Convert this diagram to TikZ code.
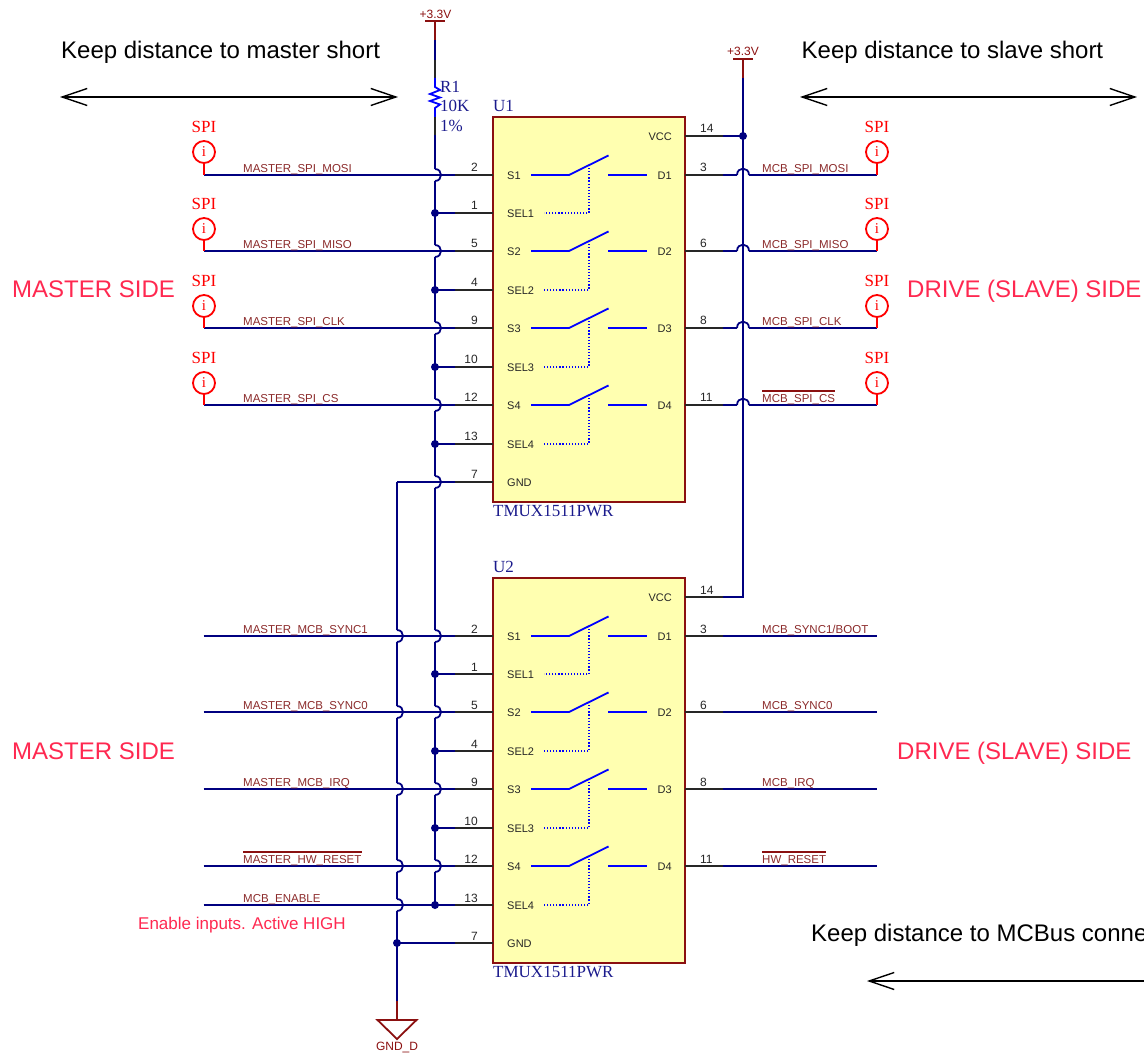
\documentclass[tikz,border=0pt]{standalone}
\usepackage{fontspec}
\setmainfont{Liberation Sans}
\newfontfamily\serifface{Liberation Serif}
\usetikzlibrary{arrows.meta,calc}
\definecolor{wirec}{HTML}{000080}
\definecolor{netc}{HTML}{8B2A2A}
\definecolor{darkr}{HTML}{8B1010}
\definecolor{compc}{HTML}{1A1A8C}
\definecolor{notec}{HTML}{FF2850}
\definecolor{swc}{HTML}{0000FF}
\definecolor{chipf}{HTML}{FFFFB0}
\newcommand{\fs}[1]{\fontsize{#1pt}{#1pt}\selectfont}
\tikzset{
  wire/.style={draw=wirec,line width=1.8pt},
  pinline/.style={draw=black!85,line width=1.8pt},
  powerline/.style={draw=darkr,line width=1.8pt},
  chipbox/.style={draw=darkr,fill=chipf,line width=2pt,inner sep=0pt,outer sep=0pt,minimum width=192pt,anchor=north west},
  pintext/.style={inner sep=0pt,text=black!85,font=\fs{11}},
  pinnum/.style={inner sep=0pt,text=black!85,font=\fs{12}},
  netlabel/.style={inner sep=0pt,text=netc,font=\fs{11.5},anchor=base west},
  netbar/.style={draw=darkr,line width=1.6pt},
  compref/.style={inner sep=0pt,text=compc,font=\serifface\fs{17},anchor=base west},
  bigtext/.style={inner sep=0pt,text=black,font=\fs{24},anchor=base west},
  notetext/.style={inner sep=0pt,text=notec,font=\fs{24},anchor=base west},
  powertext/.style={inner sep=0pt,text=darkr,font=\fs{12}},
  junction/.style={circle,fill=wirec,inner sep=0pt,minimum size=8pt},
  sw/.style={draw=swc,line width=1.8pt},
  swdot/.style={draw=swc,line width=1.2pt,dash pattern=on 1.2pt off 1.9pt},
  spicircle/.style={circle,draw=red,line width=1.8pt,inner sep=0pt,minimum size=22pt,text=red,font=\serifface\fs{15}},
  spitext/.style={inner sep=0pt,text=red,font=\serifface\fs{17}},
  spistem/.style={draw=red,line width=1.8pt},
  farrow/.style={draw=black,line width=1.6pt},
  barb/.tip={Straight Barb[length=25pt,width=17pt,line width=1.4pt]}
}
% vertical wire hop over a horizontal wire
\newcommand{\vhop}[1]{\draw[wire,shift={(#1)}] (0,-6) .. controls (8,-6) and (8,6) .. (0,6);}
% horizontal wire hop over a vertical wire
\newcommand{\hhop}[1]{\draw[wire,shift={(#1)}] (-6,0) .. controls (-6,-8.5) and (6,-8.5) .. (6,0);}
% chip: name, top y
\newcommand{\chip}[2]{%
\begin{scope}[shift={(0,#2)}]
  \node[chipbox,minimum height=384.6pt] (#1-box) at (493,0) {};
  \node[compref] (#1-ref) at (493,-5.5) {#1};
  \node[compref] (#1-type) at (493,399.5) {TMUX1511PWR};
  \foreach \pn/\num/\yy in {S1/2/58,SEL1/1/96,S2/5/134,SEL2/4/173,S3/9/211,SEL3/10/250,S4/12/288,SEL4/13/327,GND/7/365}{
    \coordinate (#1-\pn) at (493,\yy);
    \coordinate (#1-\pn w) at (454.5,\yy);
    \draw[pinline] (#1-\pn) -- (#1-\pn w);
    \node[pintext,anchor=base west] (#1-\pn t) at (507,\yy+4.5) {\pn};
    \node[pinnum,anchor=base east] (#1-\pn n) at (478,\yy-3) {\num};
  }
  \foreach \pn/\num/\yy in {VCC/14/19,D1/3/58,D2/6/134,D3/8/211,D4/11/288}{
    \coordinate (#1-\pn) at (685,\yy);
    \coordinate (#1-\pn w) at (723,\yy);
    \draw[pinline] (#1-\pn) -- (#1-\pn w);
    \node[pintext,anchor=base east] (#1-\pn t) at (672,\yy+4.5) {\pn};
    \node[pinnum,anchor=base west] (#1-\pn n) at (700,\yy-3) {\num};
  }
  \foreach \yy/\sel in {58/96,134/173,211/250,288/327}{
    \draw[sw] (531,\yy) -- (569,\yy) -- (608.5,\yy-19.5);
    \draw[sw] (608,\yy) -- (647,\yy);
    \draw[swdot] (589,\yy-10) -- (589,\sel) -- (544,\sel);
  }
\end{scope}}
\newcommand{\spileft}[4]{% name, pin, label, circle y
  \node[spicircle] (#1) at (204,#4) {i};
  \node[spitext] (#1t) at (204,#4-25) {SPI};
  \coordinate (#1e) at (#1 |- #2);
  \draw[wire] (#1e) -- (#2w);
  \draw[spistem] (#1) -- (#1e);
  \node[netlabel] (#1l) at ($(#2)+(-250,-2.5)$) {#3};
}
\newcommand{\spiright}[4]{%
  \node[spicircle] (#1) at (877,#4) {i};
  \node[spitext] (#1t) at (877,#4-25) {SPI};
  \coordinate (#1e) at (#1 |- #2);
  \coordinate (#1h) at (railB |- #2);
  \draw[wire] (#2w) -- ($(#1h)+(-6,0)$);
  \hhop{#1h}
  \draw[wire] ($(#1h)+(6,0)$) -- (#1e);
  \draw[spistem] (#1) -- (#1e);
  \node[netlabel] (#1l) at ($(#2)+(77,-2.5)$) {#3};
}
\begin{document}
\begin{tikzpicture}[x=1pt,y=-1pt]
\useasboundingbox (0,0) rectangle (1144,1056);
\clip (0,0) rectangle (1144,1056);
\chip{U1}{117}
\chip{U2}{578}

% rails
\coordinate (railA) at (435,135);
\coordinate (railB) at (743,78);
\coordinate (railC) at (397,482);

% +3.3V over R1
\node[powertext] (vccA) at (435.5,14) {+3.3V};
\coordinate (vccAbar) at (435,21);
\coordinate (a1) at (435,40);
\coordinate (a2) at (435,60);
\coordinate (a3) at (435,78);
\coordinate (a4) at (435,117);
\draw[powerline] ($(vccAbar)+(-10,0)$) -- ($(vccAbar)+(10,0)$);
\draw[powerline] (vccAbar) -- (a1);
\draw[wire] (a1) -- (a2);
\draw[pinline] (a2) -- (a3);
\draw[sw,line join=miter] (a3) -- (435,87) -- (440,90) -- (430,94) -- (440,97.5) -- (430,101) -- (440,104.5) -- (435,108) -- (a4);
\draw[pinline] (a4) -- (railA);
\node[compref] (R1a) at (440,92.5) {R1};
\node[compref] (R1b) at (440,112) {10K};
\node[compref] (R1c) at (440,131.5) {1\%};

% rail A with hops
\foreach \prev/\next in {U1-S1/U1-S2,U1-S2/U1-S3,U1-S3/U1-S4,U1-S4/U1-GND,U1-GND/U2-S1,U2-S1/U2-S2,U2-S2/U2-S3,U2-S3/U2-S4}{
  \draw[wire] ($(railA |- \prev)+(0,6)$) -- ($(railA |- \next)+(0,-6)$);
}
\draw[wire] (railA) -- ($(railA |- U1-S1)+(0,-6)$);
\draw[wire] ($(railA |- U2-S4)+(0,6)$) -- (railA |- U2-SEL4);
\foreach \p in {U1-S1,U1-S2,U1-S3,U1-S4,U1-GND,U2-S1,U2-S2,U2-S3,U2-S4}{ \vhop{railA |- \p} }
\foreach \p in {U1-SEL1,U1-SEL2,U1-SEL3,U1-SEL4,U2-SEL1,U2-SEL2,U2-SEL3,U2-SEL4}{
  \node[junction] at (railA |- \p) {};
  \draw[wire] (railA |- \p) -- (\p w);
}

% SPI nets
\spileft{mA}{U1-S1}{MASTER\_SPI\_MOSI}{152}
\spileft{mB}{U1-S2}{MASTER\_SPI\_MISO}{229}
\spileft{mC}{U1-S3}{MASTER\_SPI\_CLK}{306}
\spileft{mD}{U1-S4}{MASTER\_SPI\_CS}{383}
\spiright{sA}{U1-D1}{MCB\_SPI\_MOSI}{152}
\spiright{sB}{U1-D2}{MCB\_SPI\_MISO}{229}
\spiright{sC}{U1-D3}{MCB\_SPI\_CLK}{306}
\spiright{sD}{U1-D4}{MCB\_SPI\_CS}{383}
\draw[netbar] ([yshift=3.5pt]sDl.north west) -- ([yshift=3.5pt]sDl.north east);

% +3.3V rail B
\node[powertext] (vccB) at (743,51) {+3.3V};
\coordinate (vccBbar) at (743,59);
\draw[powerline] ($(vccBbar)+(-10,0)$) -- ($(vccBbar)+(10,0)$);
\draw[powerline] (vccBbar) -- (railB);
\draw[wire] (railB) -- (railB |- U2-VCC) -- (U2-VCCw);
\draw[wire] (railB |- U1-VCC) -- (U1-VCCw);
\node[junction] at (railB |- U1-VCC) {};

% GND rail C
\draw[wire] (railC) -- (U1-GNDw);
\foreach \prev/\next in {U2-S1/U2-S2,U2-S2/U2-S3,U2-S3/U2-S4,U2-S4/U2-SEL4}{
  \draw[wire] ($(railC |- \prev)+(0,6)$) -- ($(railC |- \next)+(0,-6)$);
}
\draw[wire] (railC) -- ($(railC |- U2-S1)+(0,-6)$);
\foreach \p in {U2-S1,U2-S2,U2-S3,U2-S4,U2-SEL4}{ \vhop{railC |- \p} }
\coordinate (gndj) at (railC |- U2-GND);
\coordinate (gnd1) at (397,1001);
\coordinate (gnd2) at (397,1020);
\draw[wire] ($(railC |- U2-SEL4)+(0,6)$) -- (gnd1);
\draw[wire] (gndj) -- (U2-GNDw);
\node[junction] at (gndj) {};
\draw[powerline] (gnd1) -- (gnd2);
\draw[powerline,line join=miter] ($(gnd2)+(-19.5,0)$) -- ($(gnd2)+(19.5,0)$) -- (397,1039) -- cycle;
\node[powertext] (gndt) at (397,1047.5) {GND\_D};

% U2 left nets
\foreach \n/\pin/\lab in {nA/U2-S1/MASTER\_MCB\_SYNC1,nB/U2-S2/MASTER\_MCB\_SYNC0,nC/U2-S3/MASTER\_MCB\_IRQ,nD/U2-S4/MASTER\_HW\_RESET,nE/U2-SEL4/MCB\_ENABLE}{
  \coordinate (\n) at (203.5,0);
  \draw[wire] (\n |- \pin) -- (\pin w);
  \node[netlabel] (\n l) at ($(\pin)+(-250,-2.5)$) {\lab};
}
\draw[netbar] ([yshift=3.5pt]nDl.north west) -- ([yshift=3.5pt]nDl.north east);

% U2 right nets
\foreach \n/\pin/\lab in {rA/U2-D1/MCB\_SYNC1\slash BOOT,rB/U2-D2/MCB\_SYNC0,rC/U2-D3/MCB\_IRQ,rD/U2-D4/HW\_RESET}{
  \coordinate (\n) at (877,0);
  \draw[wire] (\pin w) -- (\n |- \pin);
  \node[netlabel] (\n l) at ($(\pin)+(77,-2.5)$) {\lab};
}
\draw[netbar] ([yshift=3.5pt]rDl.north west) -- ([yshift=3.5pt]rDl.north east);

% notes
\node[bigtext] (k1) at (61,59) {Keep distance to master short};
\node[bigtext] (k2) at (801.5,59) {Keep distance to slave short};
\node[bigtext] (k3) at (811,941) {Keep distance to MCBus conne};
\coordinate (a1l) at (60,97);
\coordinate (a1r) at (398,97);
\coordinate (a2l) at (800,97);
\coordinate (a2r) at (1137,97);
\coordinate (a3l) at (867,981);
\coordinate (a3r) at (1144,981);
\draw[farrow,{barb}-{barb}] (a1l) -- (a1r);
\draw[farrow,{barb}-{barb}] (a2l) -- (a2r);
\draw[farrow,{barb}-] (a3l) -- (a3r);
\node[notetext] (s1) at (12,298) {MASTER SIDE};
\node[notetext] (s2) at (907,298) {DRIVE (SLAVE) SIDE};
\node[notetext] (s3) at (12,759) {MASTER SIDE};
\node[notetext] (s4) at (897,759) {DRIVE (SLAVE) SIDE};
\node[notetext,font=\fs{17}] (en) at (138,929) {Enable inputs. Active HIGH};
\end{tikzpicture}
\end{document}
